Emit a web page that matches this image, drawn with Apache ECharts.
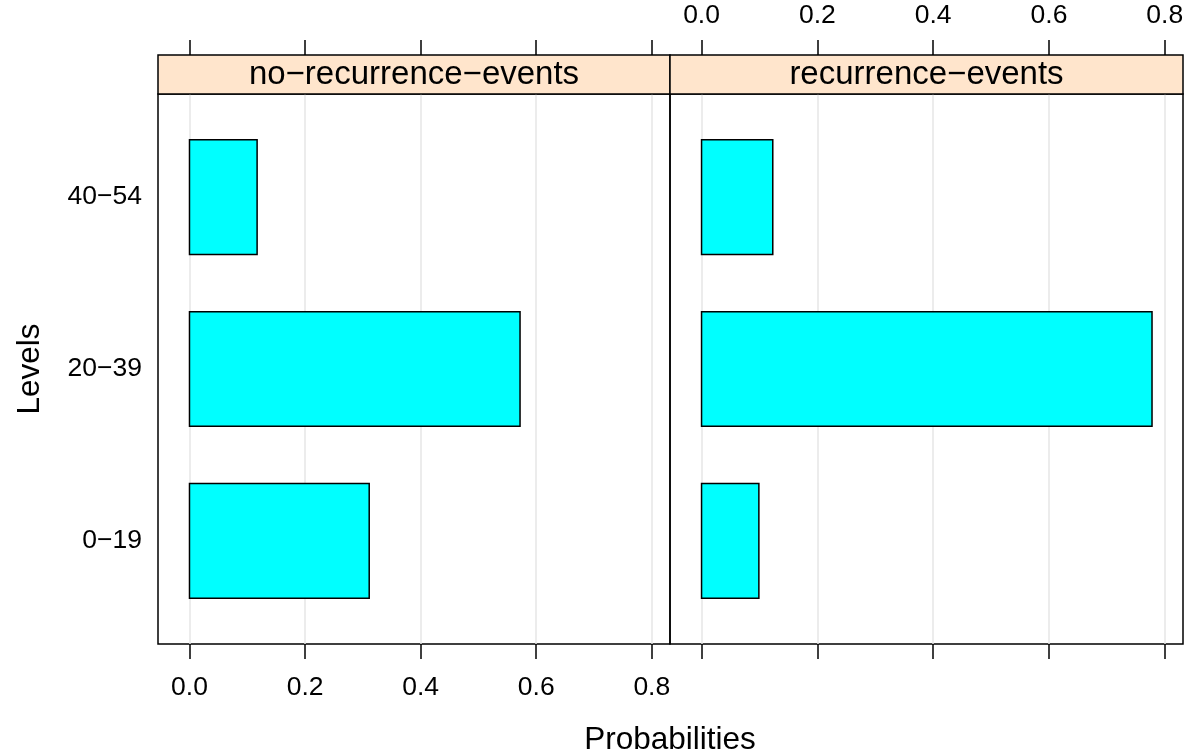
<!DOCTYPE html>
<html>
<head>
<meta charset="utf-8">
<script src="https://cdn.jsdelivr.net/npm/echarts@6/dist/echarts.min.js"></script>
<style>
  html, body { margin: 0; padding: 0; background: #fff; }
  #chart { width: 1188px; height: 751px; }
</style>
</head>
<body>
<div id="chart"></div>
<script>
// data
const levels = ['0\u221219', '20\u221239', '40\u221254'];
const panels = ['no\u2212recurrence\u2212events', 'recurrence\u2212events'];
const noRecurrence = [0.311, 0.572, 0.117];
const recurrence = [0.099, 0.778, 0.123];
const xTicks = [0, 0.2, 0.4, 0.6, 0.8];

const FONT = '"Liberation Sans", Arial, Helvetica, sans-serif';
const xMin = -0.0545, xMax = 0.8315;
const gridTop = 94, gridH = 550;
const grids = [
  { left: 158, top: gridTop, width: 512, height: gridH },
  { left: 670, top: gridTop, width: 513, height: gridH }
];

function barRender(params, api) {
  const lv = api.value(1);
  const p0 = api.coord([0, lv + 1 / 3]);
  const p1 = api.coord([api.value(0), lv - 1 / 3]);
  return {
    type: 'rect',
    shape: { x: p0[0], y: p0[1], width: p1[0] - p0[0], height: p1[1] - p0[1] },
    style: { fill: '#00FFFF', stroke: '#000', lineWidth: 1.5 }
  };
}

function toData(vals) {
  return vals.map((v, i) => [v, i + 1]);
}

function xAxis(gridIndex, position, labels, offset) {
  return {
    type: 'value',
    gridIndex: gridIndex,
    position: position,
    offset: offset,
    min: xMin,
    max: xMax,
    axisLine: { show: false },
    axisTick: { show: true, inside: false, length: 15, customValues: xTicks,
      lineStyle: { color: '#000', width: 1.5 } },
    axisLabel: { show: labels, customValues: xTicks, margin: position === 'top' ? 26 : 30,
      color: '#000', fontSize: 26.5, fontFamily: FONT,
      formatter: v => v.toFixed(1) },
    splitLine: { show: position === 'bottom',
      lineStyle: { color: '#e6e6e6', width: 1.5 } }
  };
}

function yAxis(gridIndex, labels) {
  return {
    type: 'value',
    gridIndex: gridIndex,
    min: 0.4,
    max: 3.6,
    axisLine: { show: false },
    axisTick: { show: false },
    splitLine: { show: false },
    name: labels ? 'Levels' : '',
    nameLocation: 'middle',
    nameGap: 112,
    nameRotate: 90,
    nameTextStyle: { color: '#000', fontSize: 31.5, fontFamily: FONT },
    axisLabel: { show: labels, customValues: [1, 2, 3], margin: 16,
      color: '#000', fontSize: 26.5, fontFamily: FONT,
      formatter: v => levels[Math.round(v) - 1] }
  };
}

const stripH = 39;
const graphics = [];
grids.forEach((g, i) => {
  graphics.push({
    type: 'rect',
    shape: { x: g.left, y: g.top - stripH, width: g.width, height: stripH },
    style: { fill: '#FFE5CC', stroke: '#000', lineWidth: 1.5 },
    z: 10
  });
  graphics.push({
    type: 'text',
    x: g.left + g.width / 2,
    y: g.top - stripH / 2,
    style: { text: panels[i], fill: '#000', font: '33px ' + FONT,
      textAlign: 'center', textVerticalAlign: 'middle' },
    z: 11
  });
});
graphics.push({
  type: 'text',
  x: 670,
  y: 740,
  style: { text: 'Probabilities', fill: '#000', font: '31.5px ' + FONT,
    textAlign: 'center', textVerticalAlign: 'middle' }
});

const chart = echarts.init(document.getElementById('chart'), null, { renderer: 'canvas' });
chart.setOption({
  animation: false,
  backgroundColor: '#fff',
  grid: grids.map(g => Object.assign({ show: true, borderColor: '#000', borderWidth: 1.5,
    backgroundColor: 'transparent' }, g)),
  xAxis: [
    xAxis(0, 'bottom', true, 0),
    xAxis(0, 'top', false, stripH),
    xAxis(1, 'bottom', false, 0),
    xAxis(1, 'top', true, stripH)
  ],
  yAxis: [yAxis(0, true), yAxis(1, false)],
  series: [
    { type: 'custom', xAxisIndex: 0, yAxisIndex: 0, renderItem: barRender,
      data: toData(noRecurrence), z: 3 },
    { type: 'custom', xAxisIndex: 2, yAxisIndex: 1, renderItem: barRender,
      data: toData(recurrence), z: 3 }
  ],
  graphic: graphics
});
</script>
</body>
</html>
